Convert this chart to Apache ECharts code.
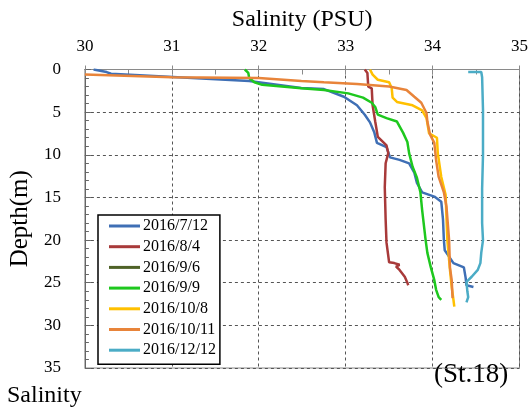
<!DOCTYPE html>
<html>
<head>
<meta charset="utf-8">
<script src="https://cdn.jsdelivr.net/npm/echarts@6/dist/echarts.min.js"></script>
<style>
  html, body { margin: 0; padding: 0; background: #fff; }
  #chart { width: 531px; height: 410px; }
</style>
</head>
<body>
<div id="chart"></div>
<script>
const seriesNames = ['2016/7/12', '2016/8/4', '2016/9/6', '2016/9/9', '2016/10/8', '2016/10/11', '2016/12/12']
const colorList = ['#3f6fb5', '#a83a3a', '#4f6228', '#1ec81e', '#ffc000', '#e8843a', '#4bacc6']
const salTicks = [30, 31, 32, 33, 34, 35]
const depthTicks = [0, 5, 10, 15, 20, 25, 30, 35]

// depth (m) / salinity (PSU) pairs
const dep0712 = [0, 0.3, 0.5, 1.35, 2.17, 2.3, 3.2, 4.2, 5.3, 6.2, 7.4, 8.6, 9.1, 10.3, 10.6, 11.0, 12.1, 13.3, 14.4, 14.9, 15.5, 17.6, 20.0, 21.2, 22.7, 23.2, 24.4, 25.3, 25.5]
const sal0712 = [30.1, 30.25, 30.3, 31.89, 32.49, 32.75, 32.98, 33.13, 33.22, 33.28, 33.33, 33.36, 33.47, 33.51, 33.62, 33.73, 33.79, 33.82, 33.88, 34.02, 34.10, 34.12, 34.13, 34.14, 34.24, 34.36, 34.38, 34.39, 34.47]

const dep0804 = [0, 0.4, 2.0, 2.2, 4.2, 6.1, 7.3, 7.9, 8.9, 9.8, 11.0, 13.8, 17.6, 20.3, 22.6, 22.7, 22.9, 23.1, 23.5, 24.3, 25.0, 25.3]
const sal0804 = [33.22, 33.25, 33.26, 33.30, 33.31, 33.34, 33.36, 33.37, 33.47, 33.49, 33.46, 33.45, 33.46, 33.47, 33.50, 33.56, 33.62, 33.58, 33.62, 33.68, 33.71, 33.72]

const dep0906 = []
const sal0906 = []

const dep0909 = [0, 0.4, 1.0, 1.5, 1.8, 2.2, 2.4, 2.8, 3.3, 3.9, 4.4, 5.3, 5.7, 6.1, 7.4, 8.5, 9.8, 11.4, 12.7, 14.4, 16.5, 20.0, 21.5, 23.2, 24.7, 25.8, 26.7, 27.0]
const sal0909 = [31.84, 31.88, 31.89, 31.95, 32.04, 32.49, 32.75, 33.03, 33.20, 33.30, 33.34, 33.37, 33.47, 33.59, 33.66, 33.71, 33.73, 33.77, 33.82, 33.86, 33.88, 33.92, 33.94, 33.98, 34.02, 34.04, 34.07, 34.10]

const dep1008 = [0, 0.6, 1.2, 1.5, 2.2, 3.3, 3.8, 4.2, 4.8, 5.7, 7.5, 8.0, 9.8, 12.6, 14.7, 20.0, 23.5, 25.5, 27.0, 27.8]
const sal1008 = [33.28, 33.31, 33.37, 33.50, 33.53, 33.54, 33.59, 33.77, 33.88, 33.93, 33.96, 34.05, 34.06, 34.10, 34.15, 34.17, 34.20, 34.22, 34.24, 34.25]

const dep1011 = [0.6, 0.9, 1.0, 1.35, 1.5, 1.7, 2.0, 2.4, 3.2, 3.9, 5.1, 6.1, 7.6, 8.6, 10.6, 12.6, 14.4, 16.1, 20.0, 23.2, 24.7, 26.8]
const sal1011 = [30.0, 31.0, 32.0, 32.49, 32.75, 33.13, 33.50, 33.70, 33.79, 33.87, 33.93, 33.94, 33.97, 34.02, 34.04, 34.07, 34.13, 34.16, 34.19, 34.20, 34.22, 34.23]

const dep1212 = [0.3, 0.3, 0.9, 4.7, 10, 14, 18, 20, 21.5, 22.7, 23.5, 24.3, 24.9, 26.0, 26.7, 27.3]
const sal1212 = [34.41, 34.56, 34.57, 34.58, 34.58, 34.57, 34.57, 34.58, 34.56, 34.55, 34.52, 34.45, 34.39, 34.40, 34.41, 34.39]

const depths = [dep0712, dep0804, dep0906, dep0909, dep1008, dep1011, dep1212]
const sals = [sal0712, sal0804, sal0906, sal0909, sal1008, sal1011, sal1212]

const font = 'Liberation Serif'
const chart = echarts.init(document.getElementById('chart'))

const seriesList = seriesNames.map((name, i) => {
  return {
    name: name,
    type: 'line',
    showSymbol: false,
    symbol: 'none',
    lineStyle: { width: 2.5, color: colorList[i] },
    itemStyle: { color: colorList[i] },
    data: sals[i].map((s, k) => [s, depths[i][k]])
  }
})

// tick-only axes (no labels, no lines) used for the small ticks
const tickOnly = {
  axisLine: { show: false },
  axisLabel: { show: false },
  splitLine: { show: false }
}

chart.setOption({
  animation: false,
  backgroundColor: '#fff',
  color: colorList,
  grid: {
    left: 80,
    right: 9,
    top: 69.5,
    bottom: 42,
    show: true,
    borderColor: '#8a8a8a',
    borderWidth: 1
  },
  legend: {
    orient: 'vertical',
    left: 98,
    top: 215,
    width: 120,
    padding: [3, 4, 6, 11],
    itemWidth: 31,
    itemHeight: 3,
    itemGap: 4.7,
    icon: 'rect',
    borderColor: '#000',
    borderWidth: 1.5,
    backgroundColor: '#fff',
    textStyle: { fontFamily: font, fontSize: 16, color: '#000', lineHeight: 16, padding: [0, 0, 0, -2] },
    data: seriesNames
  },
  xAxis: [{
    type: 'value',
    position: 'top',
    min: salTicks[0],
    max: salTicks[salTicks.length - 1],
    interval: 1,
    name: 'Salinity (PSU)',
    nameLocation: 'middle',
    nameGap: 38,
    nameTextStyle: { fontFamily: font, fontSize: 24, color: '#000' },
    axisLine: { show: true, lineStyle: { color: '#8a8a8a', width: 1 } },
    axisTick: { show: true, inside: true, length: 5, lineStyle: { color: '#8a8a8a' } },
    axisLabel: { fontFamily: font, fontSize: 17, color: '#000', margin: 14 },
    splitLine: { show: true, lineStyle: { color: '#555', type: [3, 3], width: 1 } }
  }, {
    type: 'value',
    position: 'bottom',
    min: salTicks[0],
    max: salTicks[salTicks.length - 1],
    interval: 1,
    axisLine: { show: true, lineStyle: { color: '#8a8a8a', width: 1 } },
    axisTick: { show: true, inside: true, length: 4, lineStyle: { color: '#8a8a8a' } },
    axisLabel: { show: false },
    splitLine: { show: false }
  }, Object.assign({
    type: 'value',
    position: 'top',
    min: salTicks[0],
    max: salTicks[salTicks.length - 1],
    interval: 0.5,
    axisTick: { show: true, inside: true, length: 5, lineStyle: { color: '#8a8a8a' } }
  }, tickOnly)],
  yAxis: [{
    type: 'value',
    inverse: true,
    min: depthTicks[0],
    max: depthTicks[depthTicks.length - 1],
    interval: 5,
    name: 'Depth(m)',
    nameLocation: 'middle',
    nameGap: 40,
    nameTextStyle: { fontFamily: font, fontSize: 25, color: '#000' },
    axisLine: { show: true, lineStyle: { color: '#666', width: 1 } },
    axisTick: { show: true, inside: true, length: 6, lineStyle: { color: '#666' } },
    axisLabel: { fontFamily: font, fontSize: 17, color: '#000', margin: 24 },
    splitLine: { show: true, lineStyle: { color: '#555', type: [3, 3], width: 1 } }
  }, Object.assign({
    type: 'value',
    position: 'left',
    inverse: true,
    min: depthTicks[0],
    max: depthTicks[depthTicks.length - 1],
    interval: 1,
    axisTick: { show: true, inside: true, length: 4, lineStyle: { color: '#666' } }
  }, tickOnly)],
  graphic: [{
    type: 'text',
    left: 7,
    top: 384,
    style: { text: 'Salinity', fontFamily: font, fontSize: 24, fill: '#000' }
  }, {
    type: 'text',
    left: 434,
    top: 361,
    style: { text: '(St.18)', fontFamily: font, fontSize: 27, fill: '#000' }
  }],
  series: seriesList
})
</script>
</body>
</html>
